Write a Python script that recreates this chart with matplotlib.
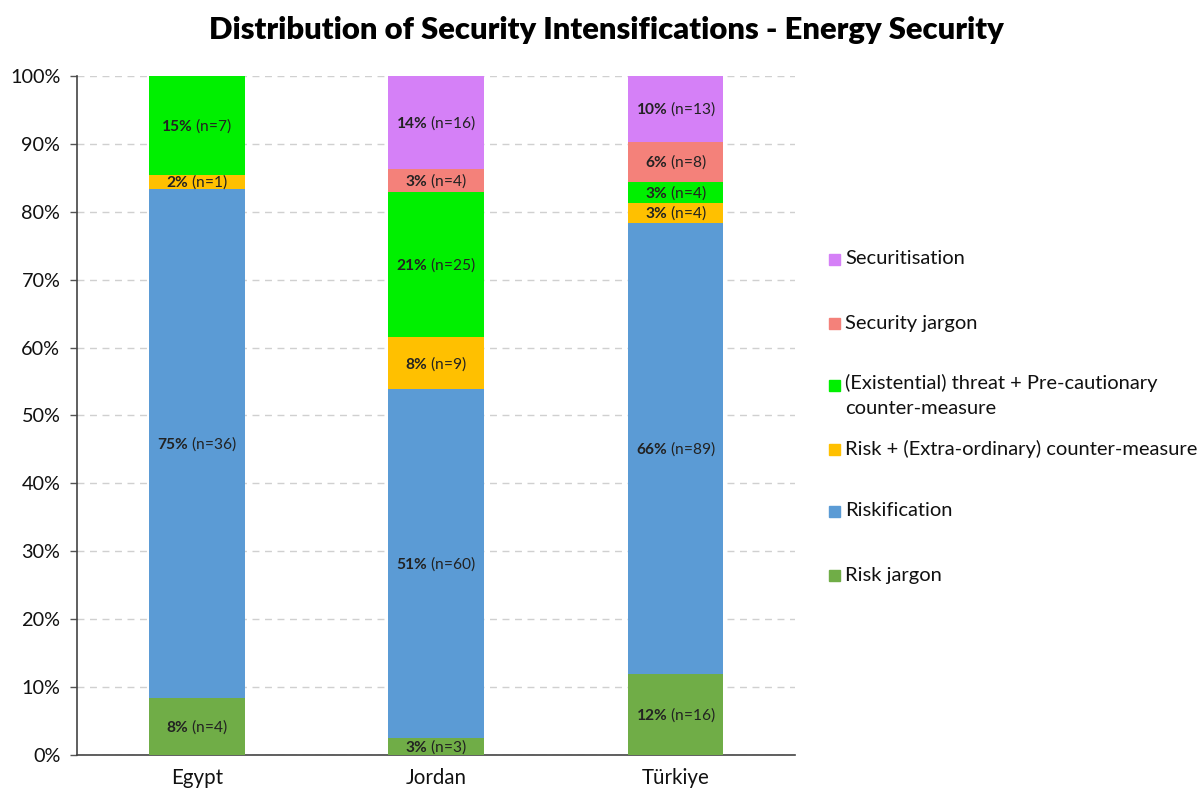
import matplotlib
matplotlib.use("Agg")
import matplotlib.pyplot as plt
from matplotlib.patches import Rectangle
import numpy as np

plt.rcParams["font.family"] = ["Lato", "DejaVu Sans"]
plt.rcParams["mathtext.fontset"] = "custom"
plt.rcParams["mathtext.rm"] = "Lato"
plt.rcParams["mathtext.bf"] = "Lato:bold"

countries = ["Egypt", "Jordan", "Türkiye"]
categories = [
    "Risk jargon",
    "Riskification",
    "Risk + (Extra-ordinary) counter-measure",
    "(Existential) threat + Pre-cautionary\ncounter-measure",
    "Security jargon",
    "Securitisation",
]
risk_jargon = [4, 3, 16]
riskification = [36, 60, 89]
risk_counter = [1, 9, 4]
threat_counter = [7, 25, 4]
security_jargon = [0, 4, 8]
securitisation = [0, 16, 13]
colors = ["#70AD47", "#5B9BD5", "#FFC000", "#00F000", "#F4817A", "#D580F7"]

counts = np.array([risk_jargon, riskification, risk_counter,
                   threat_counter, security_jargon, securitisation], dtype=float)
totals = counts.sum(axis=0)
shares = counts / totals * 100

fig = plt.figure(figsize=(12.03, 7.91), dpi=100)
ax = fig.add_axes([0.064, 0.0455, 0.597, 0.8585])

x = np.arange(len(countries))
bottom = np.zeros(len(countries))
for i, cat in enumerate(categories):
    ax.bar(x, shares[i], bottom=bottom, width=0.4, color=colors[i],
           zorder=3, linewidth=0)
    for j in range(len(countries)):
        if counts[i, j] > 0:
            pct = int(round(shares[i, j]))
            ax.text(x[j], bottom[j] + shares[i, j] / 2,
                    r"$\mathbf{%d\%%}$ (n=%d)" % (pct, counts[i, j]),
                    ha="center", va="center", fontsize=11.2, color="#222222",
                    zorder=4)
    bottom += shares[i]

ax.set_xlim(-0.5, 2.5)
ax.set_ylim(0, 100)
ax.set_yticks(np.arange(0, 101, 10))
ax.set_yticklabels([f"{v}%" for v in range(0, 101, 10)])
ax.set_xticks(x)
ax.set_xticklabels(countries)
ax.tick_params(axis="y", labelsize=14.3, length=5, width=1, color="#555555",
               labelcolor="#111111", pad=7)
ax.tick_params(axis="x", labelsize=14.8, length=0, labelcolor="#111111", pad=9)
ax.yaxis.grid(True, linestyle=(0, (5, 4)), color="#d0d0d0", linewidth=1, zorder=0)
for s in ["top", "right"]:
    ax.spines[s].set_visible(False)
for s in ["left", "bottom"]:
    ax.spines[s].set_color("#444444")
    ax.spines[s].set_linewidth(1.2)

fig.text(0.504, 0.962, "Distribution of Security Intensifications - Energy Security",
         ha="center", va="center", fontsize=22.3, fontweight="heavy", color="#000000")

# legend drawn top to bottom in reverse stacking order
legend_y = [259, 323, 385, 449, 511, 575]
W, H = 1203, 791
for k, i in enumerate(range(len(categories) - 1, -1, -1)):
    yc = legend_y[k]
    fig.patches.append(Rectangle((829 / W, 1 - (yc + 6) / H), 11 / W, 11 / H,
                                 transform=fig.transFigure, color=colors[i],
                                 figure=fig))
    if "\n" in categories[i]:
        fig.text(845 / W, 1 - (yc - 11) / H, categories[i], ha="left", va="top",
                 fontsize=14.5, color="#111111", linespacing=1.6)
    else:
        fig.text(845 / W, 1 - yc / H, categories[i], ha="left", va="center",
                 fontsize=14.5, color="#111111")

fig.savefig("out.png", dpi=100)
